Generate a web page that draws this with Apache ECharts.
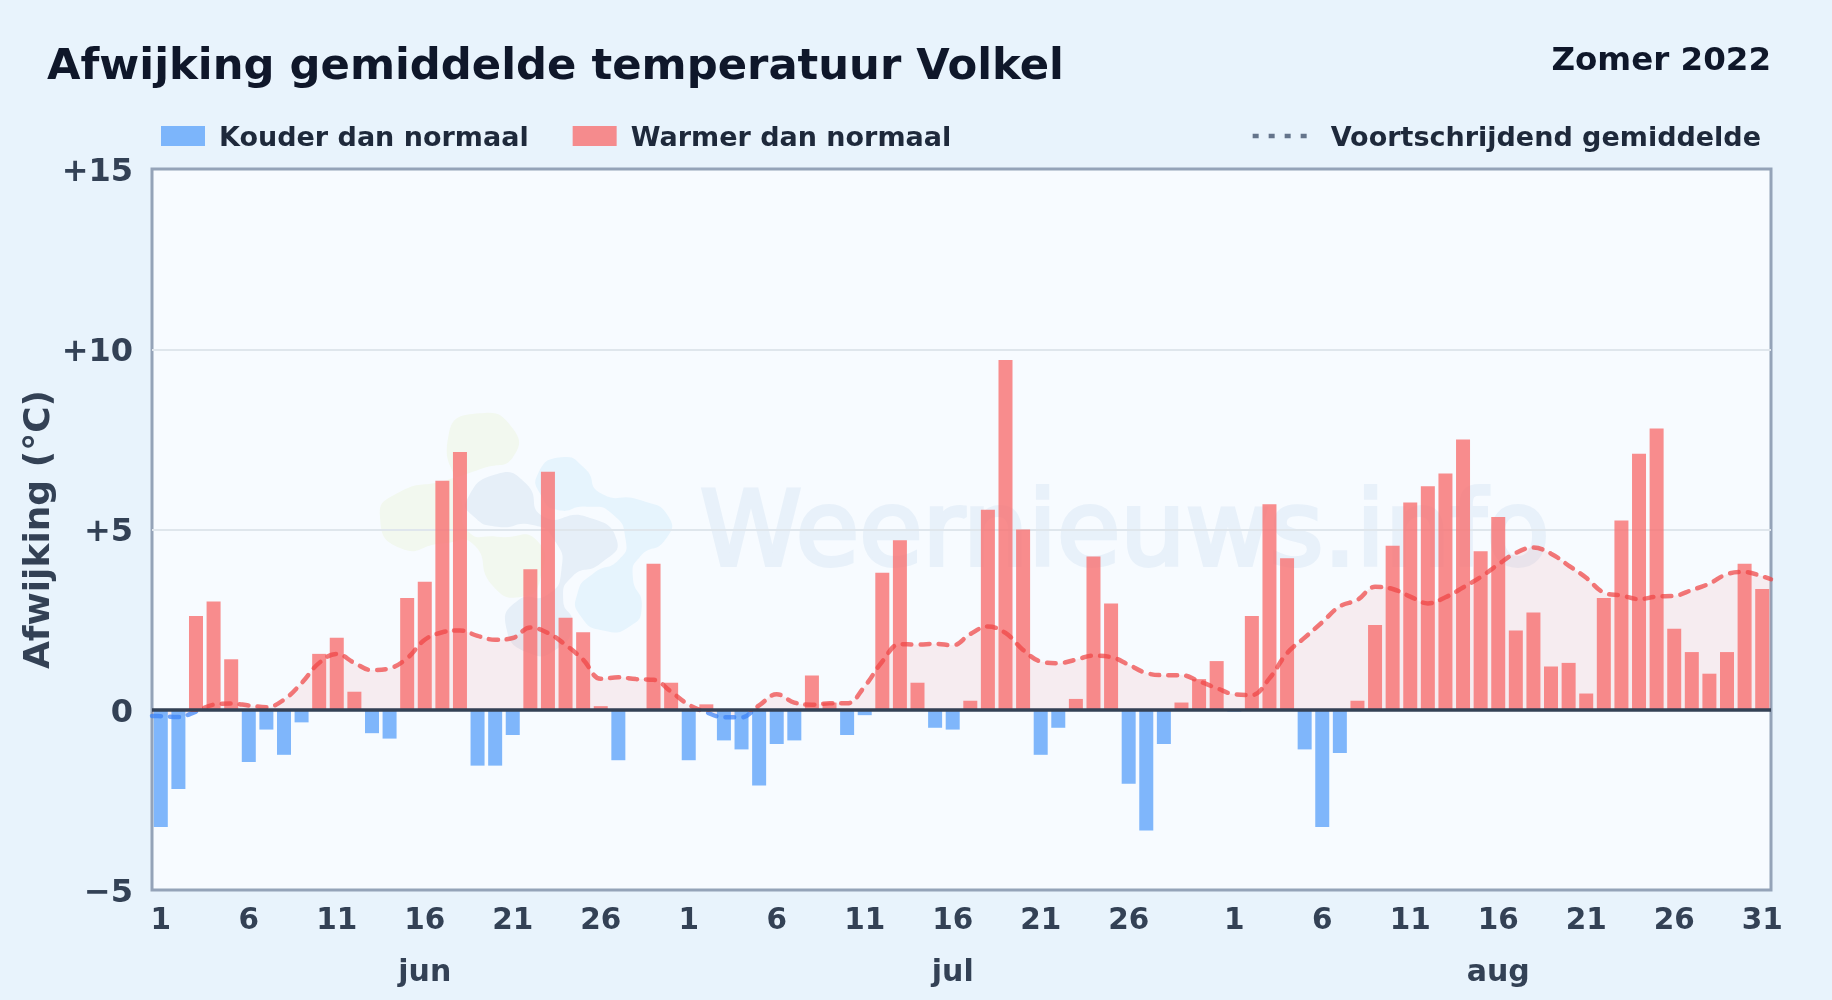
<!DOCTYPE html>
<html><head><meta charset="utf-8">
<style>html,body{margin:0;padding:0;background:#e8f3fc}#c{width:1832px;height:1000px}</style>
<script src="https://cdn.jsdelivr.net/npm/echarts@6/dist/echarts.min.js"></script>
</head><body><div id="c"></div>
<script>
const juneDays=[1,2,3,4,5,6,7,8,9,10,11,12,13,14,15,16,17,18,19,20,21,22,23,24,25,26,27,28,29,30];
const julyDays=[1,2,3,4,5,6,7,8,9,10,11,12,13,14,15,16,17,18,19,20,21,22,23,24,25,26,27,28,29,30,31];
const augustDays=[1,2,3,4,5,6,7,8,9,10,11,12,13,14,15,16,17,18,19,20,21,22,23,24,25,26,27,28,29,30,31];
const juneDev=[-3.25,-2.2,2.6,3.0,1.4,-1.45,-0.55,-1.25,-0.35,1.55,2.0,0.5,-0.65,-0.8,3.1,3.55,6.35,7.15,-1.55,-1.55,-0.7,3.9,6.6,2.55,2.15,0.1,-1.4,0,4.05,0.75];
const julyDev=[-1.4,0.15,-0.85,-1.1,-2.1,-0.95,-0.85,0.95,0.2,-0.7,-0.15,3.8,4.7,0.75,-0.5,-0.55,0.25,5.55,9.7,5.0,-1.25,-0.5,0.3,4.25,2.95,-2.05,-3.35,-0.95,0.2,0.85,1.35];
const augustDev=[-0.05,2.6,5.7,4.2,-1.1,-3.25,-1.2,0.25,2.35,4.55,5.75,6.2,6.55,7.5,4.4,5.35,2.2,2.7,1.2,1.3,0.45,3.1,5.25,7.1,7.8,2.25,1.6,1.0,1.6,4.05,3.35];
const juneAvg=[-0.18,-0.2,-0.05,0.14,0.17,0.12,0.07,0.28,0.74,1.3,1.55,1.3,1.1,1.15,1.43,1.94,2.15,2.2,2.05,1.94,1.99,2.28,2.13,1.8,1.39,0.86,0.9,0.85,0.83,0.5];
const julyAvg=[0.14,-0.07,-0.21,-0.21,0.12,0.43,0.2,0.14,0.18,0.18,0.65,1.34,1.82,1.81,1.83,1.79,2.1,2.31,2.13,1.66,1.34,1.29,1.39,1.5,1.46,1.25,1.02,0.96,0.96,0.79,0.6];
const augustAvg=[0.43,0.41,0.87,1.57,2.0,2.43,2.87,3.05,3.41,3.35,3.14,2.95,3.12,3.39,3.68,4.03,4.35,4.5,4.33,4.0,3.66,3.25,3.17,3.07,3.14,3.16,3.32,3.5,3.76,3.82,3.7];
const avgLeftEdge=-0.17, avgRightEdge=3.62;
const tickIndexes=[0,5,10,15,20,25,30,35,40,45,50,55,61,66,71,76,81,86,91];
const monthLabels={15:'jun',45:'jul',76:'aug'};
const yTicks={15:'+15',10:'+10',5:'+5',0:'0','-5':'\u22125'};
const titleText='Afwijking gemiddelde temperatuur Volkel';
const periodText='Zomer 2022';
const yName='Afwijking (\u00b0C)';
const coldName='Kouder dan normaal', warmName='Warmer dan normaal', avgName='Voortschrijdend gemiddelde';
const watermark='Weernieuws.info';

const days=[...juneDays,...julyDays,...augustDays];
const dev=[...juneDev,...julyDev,...augustDev];
const avg=[...juneAvg,...julyAvg,...augustAvg];
const cats=days.map((d,i)=>i+':'+d);
const avgPts=[[-0.5,avgLeftEdge],...avg.map((v,i)=>[i,v]),[91.5,avgRightEdge]];
const F='"DejaVu Sans"', TXT='#334155';
const avgMax=Math.max(...avg), avgMin=Math.min(...avg), zeroFrac=avgMax/(avgMax-avgMin);
const RED='rgba(239,68,68,0.72)', BLUE='rgba(59,130,246,0.72)';
const blob=(pts,fill)=>({type:'polygon',x:140,y:400,scaleX:1/2.8,scaleY:1/3,z:1,silent:true,
  shape:{points:pts,smooth:0.6},style:{fill:fill}});
const legendText=leftPad=>({rich:{t:{fontFamily:F,fontSize:27,fontWeight:'bold',color:'#1e293b',padding:[5,0,0,leftPad]}}});
const chart=echarts.init(document.getElementById('c'),null,{renderer:'canvas'});
chart.setOption({
  animation:false,
  backgroundColor:'#e8f3fc',
  textStyle:{fontFamily:F},
  title:[
    {text:titleText,left:42,top:41,textStyle:{fontFamily:F,fontSize:43.3,fontWeight:'bold',color:'#0f172a'}},
    {text:periodText,right:56,top:40,textStyle:{fontFamily:F,fontSize:32.5,fontWeight:'bold',color:'#0f172a'}}
  ],
  legend:[
    {left:156,top:120,itemWidth:44,itemHeight:20,itemGap:44,icon:'rect',formatter:'{t|{name}}',
     textStyle:legendText(9),data:[coldName,warmName]},
    {right:66,top:120,itemWidth:56,itemHeight:20,formatter:'{t|{name}}',
     textStyle:legendText(17),
     data:[{name:avgName,lineStyle:{color:'#64748b',width:4.5,type:[6,10],cap:'butt',opacity:1},itemStyle:{opacity:0}}]}
  ],
  grid:{left:152,right:61,top:169,bottom:110,show:true,backgroundColor:'#f7fbff',borderColor:'#94a3b8',borderWidth:3,containLabel:false},
  xAxis:[
    {type:'category',data:cats,position:'bottom',boundaryGap:true,
     axisLine:{show:false},axisTick:{show:false},splitLine:{show:false},
     axisLabel:{interval:i=>tickIndexes.includes(i),formatter:v=>v.split(':')[1],margin:16,fontFamily:F,fontSize:29.5,fontWeight:'bold',color:TXT,hideOverlap:false}},
    {type:'category',data:cats,position:'bottom',offset:68,boundaryGap:true,
     axisLine:{show:false},axisTick:{show:false},splitLine:{show:false},
     axisLabel:{interval:i=>monthLabels[i]!==undefined,formatter:(v,i)=>monthLabels[i]||'',margin:0,fontFamily:F,fontSize:30,fontWeight:'bold',color:TXT,hideOverlap:false}},
    {type:'value',min:-0.5,max:91.5,show:false,splitLine:{show:false}}
  ],
  yAxis:{type:'value',min:-5,max:15,interval:5,z:2,
    name:yName,nameLocation:'middle',nameGap:94,nameMoveOverlap:false,nameTextStyle:{fontFamily:F,fontSize:36,fontWeight:'bold',color:TXT},
    axisLine:{show:false},axisTick:{show:false},
    splitLine:{show:true,showMinLine:false,showMaxLine:false,lineStyle:{color:'#dfe6ec',width:2}},
    axisLabel:{formatter:v=>'{t|'+yTicks[v]+'}',margin:19,align:'right',
      rich:{t:{fontFamily:F,fontSize:32,fontWeight:'bold',color:TXT,padding:[7,0,0,0]}}}},
  graphic:{elements:[
    {type:'text',x:700,y:538,z:1,silent:true,style:{text:watermark,fontFamily:F,fontSize:103,fontWeight:'normal',fill:'#e8f1fa',stroke:'#e8f1fa',lineWidth:4,textVerticalAlign:'middle'}},
    blob([[865,100],[950,40],[1040,80],[1045,170],[960,205],[860,240],[720,280],[672,350],[730,445],[850,430],[930,430],[990,560],[1070,590],[1120,540],[1110,420],[1000,410],[920,395],[900,300]],'#f2f8ef'),
    blob([[915,300],[1000,222],[1080,250],[1130,350],[1250,350],[1335,420],[1290,490],[1210,530],[1185,600],[1210,670],[1170,745],[1090,760],[1025,680],[1060,600],[1140,585],[1180,510],[1160,420],[1100,375],[1000,380],[935,350]],'#e6eff8'),
    blob([[1115,220],[1180,172],[1245,205],[1290,280],[1400,300],[1480,350],[1470,420],[1400,470],[1380,530],[1405,620],[1370,680],[1300,692],[1235,650],[1225,580],[1270,520],[1340,480],[1360,420],[1320,340],[1250,320],[1170,330],[1125,290]],'#e6f4fd')
  ]},
  series:[
    {type:'line',xAxisIndex:2,silent:true,z:3,data:avgPts,smooth:0.4,symbol:'none',lineStyle:{width:0,opacity:0},areaStyle:{color:'rgba(248,113,113,0.15)',origin:0},legendHoverLink:false},
    {name:coldName,type:'bar',xAxisIndex:0,z:4,barWidth:14,barGap:'-100%',data:dev.map(v=>v<0?v:null),itemStyle:{color:'rgba(96,165,250,0.8)'}},
    {name:warmName,type:'bar',xAxisIndex:0,z:4,barWidth:14,barGap:'-100%',data:dev.map(v=>v>=0?v:null),itemStyle:{color:'rgba(248,113,113,0.8)'}},
    {type:'line',xAxisIndex:2,z:5,silent:true,data:[[0,0],[91,0]],symbol:'none',lineStyle:{opacity:0},
     markLine:{silent:true,symbol:'none',label:{show:false},animation:false,z:7,lineStyle:{color:'#334155',width:3.5,type:'solid'},data:[{yAxis:0}]}},
    {name:avgName,type:'line',xAxisIndex:2,z:6,data:avgPts,smooth:0.4,symbol:'none',
     lineStyle:{width:4.5,type:[9,9],cap:'round',
       color:new echarts.graphic.LinearGradient(0,0,0,1,[{offset:0,color:RED},{offset:zeroFrac,color:RED},{offset:zeroFrac,color:BLUE},{offset:1,color:BLUE}])}}
  ]
});
</script></body></html>
